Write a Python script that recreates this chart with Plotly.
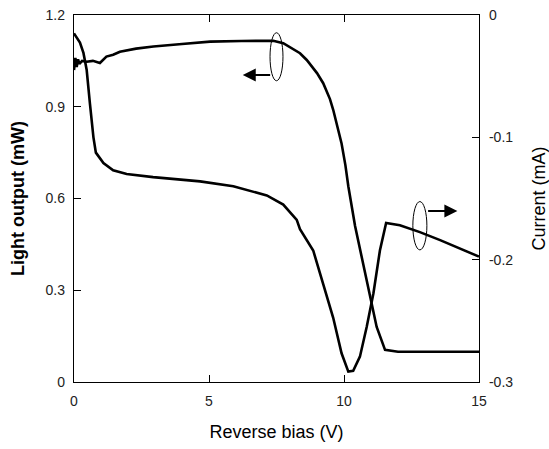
import plotly.graph_objects as go

# Light output (mW) vs reverse bias (V)
light_v = [0.0, 0.05, 0.1, 0.15, 0.2, 0.3, 0.47, 0.7, 0.96, 1.2, 1.45, 1.7, 2.3, 2.94, 4.0, 5.04, 6.2, 7.0, 7.38, 7.75, 8.1, 8.37,
           8.62, 9.0, 9.23, 9.48, 9.6, 9.75, 9.91, 10.05, 10.16, 10.41, 10.6, 10.8, 10.96, 11.21, 11.52, 12.0, 13.0, 14.0, 15.0]
light_mw = [1.02, 1.06, 1.03, 1.055, 1.04, 1.05, 1.047, 1.05, 1.043, 1.064, 1.07, 1.08, 1.09, 1.097, 1.105, 1.113, 1.115, 1.116, 1.116, 1.108, 1.09, 1.075,
            1.053, 1.01, 0.977, 0.925, 0.89, 0.84, 0.78, 0.71, 0.64, 0.51, 0.43, 0.355, 0.29, 0.18, 0.105, 0.099, 0.099, 0.099, 0.099]

# Current (mA) vs reverse bias (V)
cur_v = [0.0, 0.22, 0.35, 0.47, 0.59, 0.72, 0.81, 1.09, 1.45, 1.95, 2.93, 4.67, 5.9, 7.14, 7.75, 8.25, 8.37, 8.86, 9.23, 9.6,
         9.91, 10.16, 10.34, 10.59, 10.84, 11.09, 11.33, 11.56, 12.07, 12.81, 13.56, 14.3, 15.0]
cur_ma = [-0.015, -0.0225, -0.031, -0.045, -0.0725, -0.10, -0.1125, -0.121, -0.127, -0.13, -0.1325, -0.136, -0.140, -0.1475, -0.155, -0.1675, -0.175, -0.1925, -0.22, -0.2475,
          -0.2765, -0.2915, -0.2908, -0.2793, -0.255, -0.2275, -0.1925, -0.17, -0.1718, -0.1775, -0.184, -0.1908, -0.1975]

x_ticks = [0, 5, 10, 15]
left_ticks = [0, 0.3, 0.6, 0.9, 1.2]
left_labels = ["0", "0.3", "0.6", "0.9", "1.2"]
right_ticks = [0, -0.1, -0.2, -0.3]
right_labels = ["0", "-0.1", "-0.2", "-0.3"]

font = "Liberation Sans, Arial, sans-serif"

fig = go.Figure()
fig.add_trace(go.Scatter(x=light_v, y=light_mw, mode="lines",
                         line=dict(color="black", width=2.6), yaxis="y", showlegend=False))
fig.add_trace(go.Scatter(x=cur_v, y=cur_ma, mode="lines",
                         line=dict(color="black", width=2.6), yaxis="y2", showlegend=False))

axis_common = dict(showgrid=False, zeroline=False, showline=True, linecolor="black", linewidth=1.3,
                   ticks="inside", ticklen=7, tickcolor="black", tickwidth=1.3, automargin=False,
                   tickfont=dict(family=font, size=14, color="#222"))

fig.update_layout(
    width=549, height=449,
    margin=dict(l=74, r=70, t=15, b=67),
    paper_bgcolor="white", plot_bgcolor="white",
    font=dict(family=font, color="black"),
    xaxis=dict(range=[0, 15], tickvals=x_ticks, mirror="ticks", ticklabelstandoff=6,
               title=dict(text="Reverse bias (V)", font=dict(family=font, size=18), standoff=17),
               **axis_common),
    yaxis=dict(range=[0, 1.2], tickvals=left_ticks, ticktext=left_labels, ticklabelstandoff=5,
               title=dict(text="<b>Light output (mW)</b>", font=dict(family=font, size=18), standoff=16),
               **axis_common),
    yaxis2=dict(range=[-0.3, 0], tickvals=right_ticks, ticktext=right_labels, overlaying="y", side="right",
                ticklabelstandoff=6,
                title=dict(text="Current (mA)", font=dict(family=font, size=18), standoff=20),
                **axis_common),
)

# Ellipse markers and arrows pointing to each curve's axis
fig.add_shape(type="circle", xref="x", yref="y", x0=7.26, x1=7.74, y0=0.985, y1=1.142,
              line=dict(color="black", width=1))
fig.add_shape(type="circle", xref="x", yref="y", x0=12.55, x1=13.07, y0=0.432, y1=0.59,
              line=dict(color="black", width=1))
fig.add_annotation(x=6.25, y=1.004, ax=7.32, ay=1.004, xref="x", yref="y", axref="x", ayref="y",
                   showarrow=True, arrowhead=2, arrowsize=1.3, arrowwidth=2, arrowcolor="black", text="")
fig.add_annotation(x=14.2, y=0.559, ax=13.06, ay=0.559, xref="x", yref="y", axref="x", ayref="y",
                   showarrow=True, arrowhead=2, arrowsize=1.3, arrowwidth=2, arrowcolor="black", text="")

fig.write_html("out.html")
